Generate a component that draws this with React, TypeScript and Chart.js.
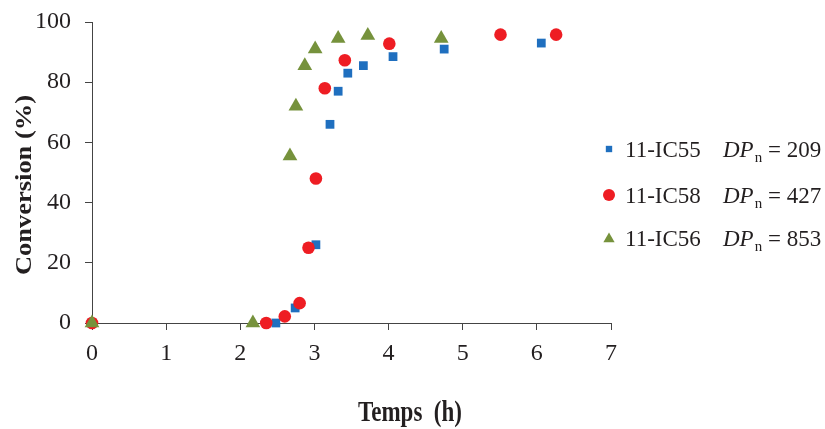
import React, { useEffect, useRef } from "react";
import { Chart, registerables } from "chart.js";
Chart.register(...registerables);

// ---- data ----
const seriesNames = ["11-IC55", "11-IC58", "11-IC56"];
const dpValues = ["209", "427", "853"];
const ic55X = [0, 2.48, 2.74, 3.02, 3.21, 3.32, 3.45, 3.66, 4.06, 4.75, 6.06];
const ic55Y = [0, 0, 5, 26, 66, 77, 83, 85.5, 88.5, 91, 93];
const ic58X = [0, 2.35, 2.6, 2.8, 2.92, 3.02, 3.14, 3.41, 4.01, 5.51, 6.26];
const ic58Y = [0, 0, 2.2, 6.6, 25, 48, 78, 87.3, 92.8, 95.8, 95.8];
const ic56X = [0, 2.17, 2.67, 2.75, 2.87, 3.01, 3.32, 3.72, 4.71];
const ic56Y = [0, 0, 55.5, 72, 85.5, 91, 94.5, 95.5, 94.5];
const xTitle = "Temps  (h)";
const yTitle = "Conversion (%)";

const COLORS = ["#1F6FBF", "#EE1D23", "#76923C"];
const STYLES = ["rect", "circle", "triangle"];
const RADII = [6.2, 6.3, 8.5];
const ORDERS = [3, 2, 1];
const SERIF = "'Liberation Serif', 'Times New Roman', serif";

const toPts = (xs: number[], ys: number[]) => xs.map((x, i) => ({ x, y: ys[i] }));

function drawMarker(ctx: CanvasRenderingContext2D, style: string, x: number, y: number, r: number) {
  ctx.beginPath();
  if (style === "rect") {
    const s = Math.SQRT1_2 * r;
    ctx.rect(x - s, y - s, 2 * s, 2 * s);
  } else if (style === "circle") {
    ctx.arc(x, y, r, 0, Math.PI * 2);
  } else {
    ctx.moveTo(x, y - r);
    ctx.lineTo(x + Math.sin((2 * Math.PI) / 3) * r, y + r / 2);
    ctx.lineTo(x - Math.sin((2 * Math.PI) / 3) * r, y + r / 2);
    ctx.closePath();
  }
  ctx.fill();
}

const decorPlugin = {
  id: "decor",
  afterDraw(chart: any) {
    const ctx: CanvasRenderingContext2D = chart.ctx;
    ctx.save();
    // legend
    const rows = [149, 195, 238];
    const legendR = [4.5, 6, 6.5];
    rows.forEach((ry, i) => {
      ctx.fillStyle = COLORS[i];
      drawMarker(ctx, STYLES[i], 609, ry + (i === 2 ? 1 : 0), legendR[i]);
      ctx.fillStyle = "#231F20";
      ctx.textBaseline = "alphabetic";
      ctx.textAlign = "left";
      const base = ry + 8;
      ctx.font = `23px ${SERIF}`;
      ctx.fillText(seriesNames[i], 625, base);
      ctx.font = `italic 23px ${SERIF}`;
      ctx.fillText("DP", 723, base);
      let x = 723 + ctx.measureText("DP").width;
      ctx.font = `15px ${SERIF}`;
      ctx.fillText("n", x + 1, base + 5);
      x += ctx.measureText("n").width + 1;
      ctx.font = `23px ${SERIF}`;
      ctx.fillText(" = " + dpValues[i], x, base);
    });
    // axis titles
    ctx.fillStyle = "#231F20";
    ctx.textAlign = "center";
    ctx.textBaseline = "middle";
    ctx.font = `bold 23px ${SERIF}`;
    ctx.save();
    ctx.translate(410, 414);
    ctx.scale(1, 1.25);
    ctx.fillText(xTitle, 0, 0);
    ctx.restore();
    ctx.save();
    ctx.translate(25, 185);
    ctx.rotate(-Math.PI / 2);
    ctx.scale(1.15, 1);
    ctx.fillText(yTitle, 0, 0);
    ctx.restore();
    ctx.restore();
  },
};

export default function App() {
  const ref = useRef<HTMLCanvasElement>(null);
  useEffect(() => {
    const prevMargin = document.body.style.margin;
    document.body.style.margin = "0";
    const all = [toPts(ic55X, ic55Y), toPts(ic58X, ic58Y), toPts(ic56X, ic56Y)];
    const chart = new Chart(ref.current!, {
      type: "scatter",
      data: {
        datasets: all.map((d, i) => ({
          label: seriesNames[i],
          data: d,
          order: ORDERS[i],
          clip: false as any,
          pointStyle: STYLES[i] as any,
          pointRadius: RADII[i],
          pointHoverRadius: RADII[i],
          backgroundColor: COLORS[i],
          borderColor: COLORS[i],
          borderWidth: 0,
        })),
      },
      options: {
        animation: false,
        responsive: false,
        maintainAspectRatio: false,
        layout: { padding: { left: 0, top: 22, right: 214, bottom: 0 } },
        plugins: { legend: { display: false }, tooltip: { enabled: false } },
        scales: {
          x: {
            type: "linear",
            min: 0,
            max: 7,
            ticks: { stepSize: 1, padding: 9, color: "#231F20", font: { family: SERIF, size: 24 } },
            grid: { drawOnChartArea: false, drawTicks: true, tickLength: 7, color: "#444" },
            border: { color: "#444", width: 1 },
            afterFit: (s: any) => { s.height = 106; s.paddingLeft = 0; s.paddingRight = 0; },
          },
          y: {
            min: 0,
            max: 100,
            ticks: { stepSize: 20, padding: 14, color: "#231F20", font: { family: SERIF, size: 24 } },
            grid: { drawOnChartArea: false, drawTicks: true, tickLength: 7, color: "#444" },
            border: { color: "#444", width: 1 },
            afterFit: (s: any) => { s.width = 92; s.paddingTop = 0; s.paddingBottom = 0; },
          },
        },
      },
      plugins: [decorPlugin],
    });
    return () => {
      chart.destroy();
      document.body.style.margin = prevMargin;
    };
  }, []);
  return (
    <div style={{ position: "fixed", left: 0, top: 0, width: 825, height: 429, background: "#fff" }}>
      <canvas ref={ref} width={825} height={429} style={{ width: 825, height: 429 }} />
    </div>
  );
}
